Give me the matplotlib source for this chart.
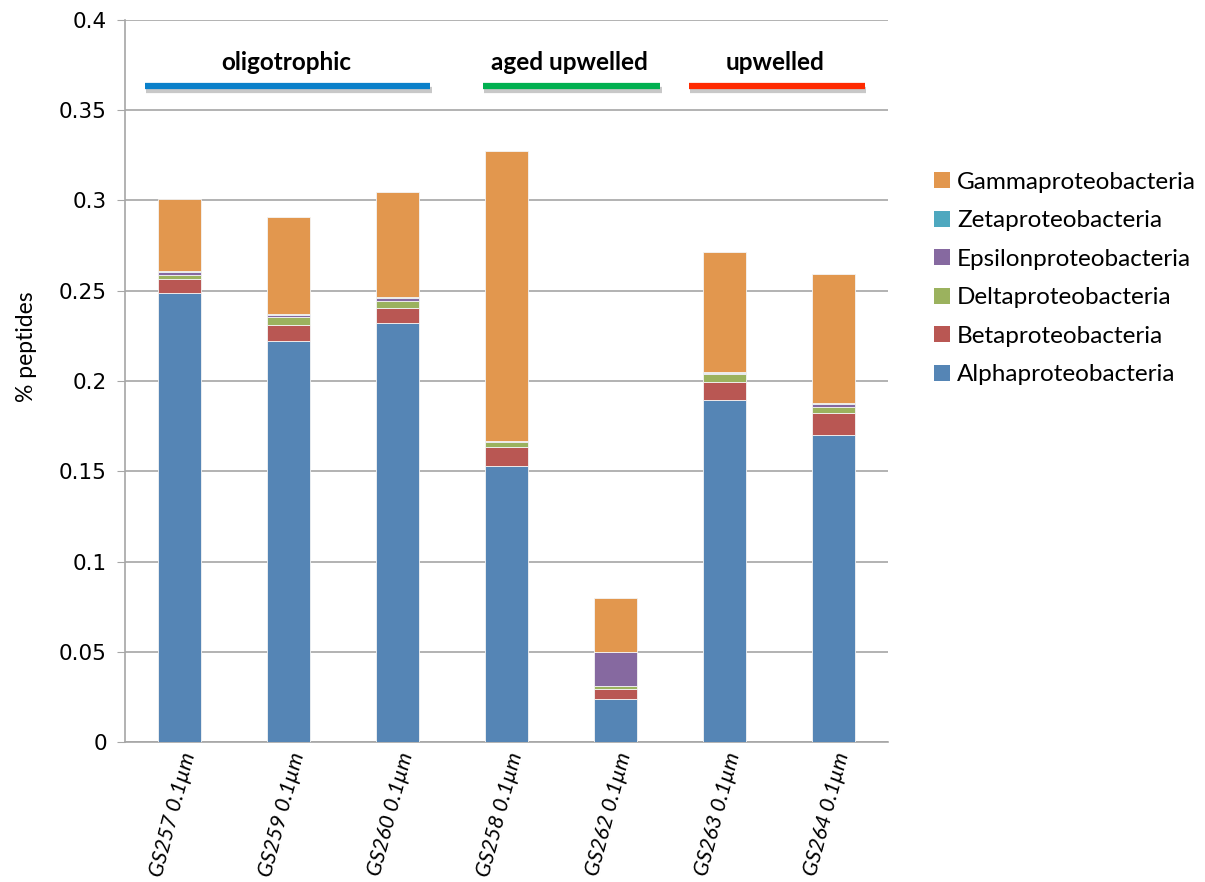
import numpy as np
import matplotlib
matplotlib.use("Agg")
import matplotlib.pyplot as plt
import matplotlib.patheffects as pe
from matplotlib.patches import Patch

samples = ["GS257 0.1\u00b5m", "GS259 0.1\u00b5m", "GS260 0.1\u00b5m", "GS258 0.1\u00b5m",
           "GS262 0.1\u00b5m", "GS263 0.1\u00b5m", "GS264 0.1\u00b5m"]

alpha = [0.2488, 0.2224, 0.2324, 0.1531, 0.0238, 0.1893, 0.1702]
beta = [0.0076, 0.0089, 0.0083, 0.0101, 0.0056, 0.0099, 0.0121]
delta = [0.0026, 0.0044, 0.0038, 0.0030, 0.0018, 0.0045, 0.0035]
epsilon = [0.0013, 0.0011, 0.0013, 0.0005, 0.0185, 0.0008, 0.0013]
zeta = [0.0005, 0.0005, 0.0008, 0.0003, 0.0004, 0.0007, 0.0005]
gamma = [0.0398, 0.0537, 0.0580, 0.1602, 0.0298, 0.0664, 0.0718]

series = [
    ("Alphaproteobacteria", alpha, "#5585B5"),
    ("Betaproteobacteria", beta, "#B95753"),
    ("Deltaproteobacteria", delta, "#9BB25E"),
    ("Epsilonproteobacteria", epsilon, "#8669A0"),
    ("Zetaproteobacteria", zeta, "#4EA8BF"),
    ("Gammaproteobacteria", gamma, "#E2974E"),
]

# water mass groups: label, line start/end (category units), label centre, colour
groups = [
    ("oligotrophic", -0.32, 2.30, 0.98, "#0A80CA"),
    ("aged upwelled", 2.78, 4.41, 3.58, "#00B050"),
    ("upwelled", 4.67, 6.29, 5.46, "#FF2A00"),
]

fig = plt.figure(figsize=(12.05, 8.82), dpi=100)
ax = fig.add_axes([125 / 1205, 140 / 882, 763 / 1205, 722 / 882])

x = np.arange(len(samples))
bottom = np.zeros(len(samples))
for name, vals, col in series:
    ax.bar(x, vals, 0.4, bottom=bottom, color=col, edgecolor="#f4f4f4",
           linewidth=0.6, label=name, zorder=3)
    bottom += np.array(vals)

ax.set_xlim(-0.5, len(samples) - 0.5)
ax.set_ylim(0, 0.4)
yt = np.arange(0, 0.401, 0.05)
ax.set_yticks(yt)
ax.set_yticklabels(["0", "0.05", "0.1", "0.15", "0.2", "0.25", "0.3", "0.35", "0.4"])
ax.yaxis.grid(True, color="#a6a6a6", linewidth=1.2, zorder=0)
ax.set_axisbelow(True)
for s in ["top", "right"]:
    ax.spines[s].set_visible(False)
for s in ["left", "bottom"]:
    ax.spines[s].set_color("#a6a6a6")
    ax.spines[s].set_linewidth(1.2)
ax.tick_params(axis="y", length=6, color="#a6a6a6", labelsize=15.5, pad=7)
ax.tick_params(axis="x", length=0, pad=6)
ax.set_xticks(x)
ax.set_xticklabels(samples, rotation=75, ha="right", va="top", rotation_mode="anchor",
                   fontsize=15.5, fontstyle="italic", family="Lato")
ax.set_ylabel("% peptides", fontsize=16.5, family="Lato")
ax.yaxis.set_label_coords(-0.115, 0.548)

for label, x0, x1, xc, col in groups:
    ax.plot([x0, x1], [0.3632, 0.3632], color=col, linewidth=4.5,
            solid_capstyle="butt", zorder=4,
            path_effects=[pe.SimpleLineShadow(offset=(1, -2.5), shadow_color="#777777", alpha=0.4),
                          pe.Normal()])
    ax.text(xc, 0.3765, label, ha="center", va="center",
            fontsize=17.5, fontweight="bold", family="Lato")

handles = [Patch(facecolor=col, label=name) for name, _, col in series[::-1]]
fig.legend(handles=handles, loc="upper left", bbox_to_anchor=(912 / 1205, 1 - 150 / 882),
           frameon=False, prop={"family": "Lato", "size": 17.5},
           handlelength=0.65, handleheight=0.65, handletextpad=0.3, labelspacing=0.72)

fig.savefig("out.png", dpi=100)
